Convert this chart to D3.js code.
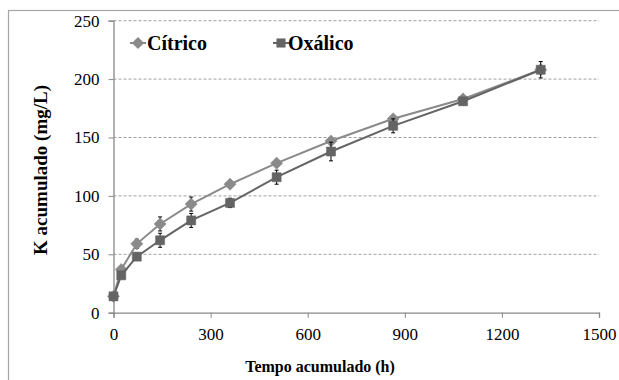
<!DOCTYPE html>
<html>
<head>
<meta charset="utf-8">
<script src="https://cdn.jsdelivr.net/npm/d3@7"></script>
<style>
  body { margin: 0; background: #fff; }
  svg text { font-family: "Liberation Serif", "Times New Roman", Times, "DejaVu Serif", serif; }
</style>
</head>
<body>
<div id="chart"></div>
<script>
const width = 619;
const height = 380;

const tempo = [0, 24, 72, 144, 240, 360, 504, 672, 864, 1080, 1320];
const citrico = [14, 37, 59, 76, 93, 110, 128, 147, 166, 183, 208];
const citricoErr = [1, 2, 4, 6, 6, 3, 2, 2, 2, 2, 3];
const oxalico = [14, 32, 48, 62, 79, 94, 116, 138, 160, 181, 208];
const oxalicoErr = [1, 2, 3, 6, 6, 4, 6, 8, 6, 3, 7];
const xTicks = [0, 300, 600, 900, 1200, 1500];
const yTicks = [0, 50, 100, 150, 200, 250];

const serif = "'Liberation Serif', 'Times New Roman', Times, 'DejaVu Serif', serif";
const margin = { left: 113.5, right: 20, top: 20.7, bottom: 67.3 };

const svg = d3.select("#chart").append("svg")
  .attr("width", width)
  .attr("height", height)
  .attr("font-family", serif);

svg.append("rect")
  .attr("x", 8.5).attr("y", 10.5)
  .attr("width", 640).attr("height", 400)
  .attr("fill", "none")
  .attr("stroke", "#a6a6a6")
  .attr("stroke-width", 1.2);

const x = d3.scaleLinear().domain([0, 1500]).range([margin.left, width - margin.right]);
const y = d3.scaleLinear().domain([0, 250]).range([height - margin.bottom, margin.top]);

// gridlines
svg.append("g")
  .selectAll("line")
  .data(yTicks.filter(d => d > 0))
  .join("line")
  .attr("x1", x(0)).attr("x2", x(1500))
  .attr("y1", d => y(d)).attr("y2", d => y(d))
  .attr("stroke", "#a0a0a0")
  .attr("stroke-dasharray", "3,2")
  .attr("stroke-width", 1);

const xAxis = d3.axisBottom(x).tickValues(xTicks).tickFormat(d3.format("d")).tickSize(5).tickPadding(10);
const yAxis = d3.axisLeft(y).tickValues(yTicks).tickFormat(d3.format("d")).tickSize(5).tickPadding(9);

const gx = svg.append("g")
  .attr("transform", `translate(0,${y(0)})`)
  .call(xAxis);
const gy = svg.append("g")
  .attr("transform", `translate(${x(0)},0)`)
  .call(yAxis);

[gx, gy].forEach(g => {
  g.attr("font-family", serif).attr("font-size", 17);
  g.select(".domain").attr("stroke", "#888").attr("stroke-width", 1.3);
  g.selectAll(".tick line").attr("stroke", "#888");
  g.selectAll("text").attr("fill", "#000");
});

// axis titles
svg.append("text")
  .attr("x", 320)
  .attr("y", 372)
  .attr("text-anchor", "middle")
  .attr("font-size", 16)
  .attr("font-weight", "bold")
  .text("Tempo acumulado (h)");

svg.append("text")
  .attr("transform", "translate(47,170) rotate(-90)")
  .attr("text-anchor", "middle")
  .attr("font-size", 19)
  .attr("font-weight", "bold")
  .text("K acumulado (mg/L)");

const series = [
  { name: "Cítrico", values: citrico, err: citricoErr, color: "#8a8a8a", marker: "diamond" },
  { name: "Oxálico", values: oxalico, err: oxalicoErr, color: "#646464", marker: "square" }
];

const markerPath = m => m === "diamond"
  ? d3.symbol().type(d3.symbolDiamond2).size(95)()
  : d3.symbol().type(d3.symbolSquare2).size(105)();

const line = d3.line()
  .x(d => x(d[0]))
  .y(d => y(d[1]));

series.forEach(s => {
  const pts = tempo.map((t, i) => [t, s.values[i], s.err[i]]);
  const g = svg.append("g");

  // error bars
  g.selectAll(".eb")
    .data(pts)
    .join("g")
    .each(function (d) {
      const e = d3.select(this);
      const cx = x(d[0]);
      e.append("line")
        .attr("x1", cx).attr("x2", cx)
        .attr("y1", y(d[1] - d[2])).attr("y2", y(d[1] + d[2]))
        .attr("stroke", "#000").attr("stroke-width", 1);
      [d[1] - d[2], d[1] + d[2]].forEach(v => {
        e.append("line")
          .attr("x1", cx - 2).attr("x2", cx + 2)
          .attr("y1", y(v)).attr("y2", y(v))
          .attr("stroke", "#000").attr("stroke-width", 1);
      });
    });

  g.append("path")
    .datum(pts)
    .attr("d", line)
    .attr("fill", "none")
    .attr("stroke", s.color)
    .attr("stroke-width", 2);

  g.selectAll(".pt")
    .data(pts)
    .join("path")
    .attr("transform", d => `translate(${x(d[0])},${y(d[1])})`)
    .attr("d", markerPath(s.marker))
    .attr("fill", s.color)
    .attr("stroke", s.color)
    .attr("stroke-width", 0.5);
});

// legend
const legendItems = [
  { x: 130, textX: 147, s: series[0] },
  { x: 273, textX: 288, s: series[1] }
];
legendItems.forEach(l => {
  svg.append("line")
    .attr("x1", l.x).attr("x2", l.x + 16)
    .attr("y1", 43).attr("y2", 43)
    .attr("stroke", l.s.color).attr("stroke-width", 2);
  svg.append("path")
    .attr("transform", `translate(${l.x + 8},43)`)
    .attr("d", markerPath(l.s.marker))
    .attr("fill", l.s.color);
  svg.append("text")
    .attr("x", l.textX)
    .attr("y", 49.5)
    .attr("font-size", 20)
    .attr("font-weight", "bold")
    .text(l.s.name);
});
</script>
</body>
</html>
